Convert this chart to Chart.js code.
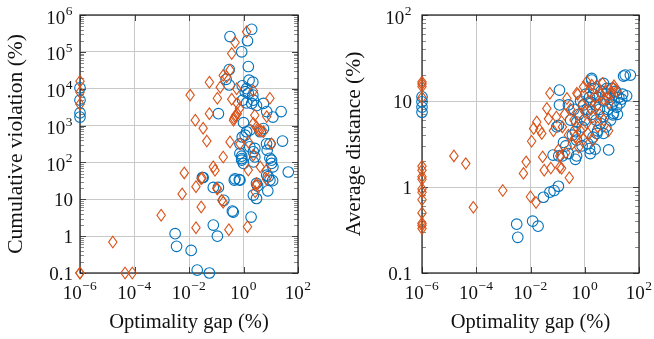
<!DOCTYPE html>
<html>
<head>
<meta charset="utf-8">
<script src="https://cdn.jsdelivr.net/npm/chart.js@4.4.1/dist/chart.umd.min.js"></script>
<style>
html, body { margin: 0; padding: 0; background: #fff; }
#wrap { position: relative; width: 654px; height: 339px; }
canvas { position: absolute; top: 0; }
</style>
</head>
<body>
<div id="wrap">
  <canvas id="violChart" width="327" height="339" style="left:0px"></canvas>
  <canvas id="distChart" width="327" height="339" style="left:327px"></canvas>
</div>
<script>
// optimality gap (%) vs cumulative violation (%)
var violCircles = [
  [1e-6,1.05e4],[1e-6,4.9e3],[1e-6,2.2e3],[1e-6,1.7e3],
  [0.32,2.6e5],[2.0,4.1e5],[1.4,2e5],[0.86,1e5],[1.5,4e4],[0.3,3.3e4],[0.23,1.8e4],[0.3,1.26e4],
  [1.6,1.7e4],[2.2,1.5e4],[0.9,1.2e4],[1.3,1e4],[1.15,8.3e3],[1.5,7.5e3],[2.2,6.7e3],[2.3,4.9e3],
  [2.0,4e3],[0.93,4.9e3],[1.3,4.1e3],[3.0,3.5e3],[5.4,4e3],[7.1,2.4e3],[24,2.4e3],[12,1.7e3],[0.12,2.1e3],
  [1.0,1.2e3],[1.7,750],[1.3,680],[5.4,830],[0.9,490],[1.15,550],[4.1,680],[0.74,320],[7,320],[9.3,320],
  [27,380],[1.7,265],[2.6,240],[2.3,195],[7.4,215],[0.74,175],[0.86,148],[2.6,141],[9.3,130],[0.86,127],
  [0.86,115],[10.7,115],[10.7,94],[1,94],[2.3,103],[12,76],
  [0.49,36],[0.74,33],[7.1,45],[9.3,33],[3.0,27],[0.12,21],[0.033,39],
  [3.1e-3,1.17],[3.5e-3,0.53],[0.012,0.41],[0.02,0.12],[0.056,0.1],[0.078,2.0],[0.11,1.0],
  [0.031,39],[0.078,21],[0.19,9.4],[0.39,4.8],[0.42,4.5],[0.46,33],[0.7,34],[1.9,3.3],[2.3,13],
  [3.0,10.5],[3.3,23],[7.8,17],[8.1,41],[11.7,32],[44,55]
];
var violDiamonds = [
  [1e-6,1.6e4],[1e-6,8e3],[1e-6,3.8e3],[1e-6,0.1],[1e-6,0.1],
  [1.6e-5,0.69],[4.5e-5,0.1],[8.3e-5,0.1],[9.5e-4,3.7],[5.6e-3,14],[6.7e-3,52],[0.018,22],[0.018,1.7],
  [0.028,6.2],[0.028,36],[0.03,38],[0.09,61],[0.105,20],[0.11,19],[0.16,9.4],[0.18,8.3],[0.29,1.5],
  [1.4,1.8],[2.9,24],[3.0,27],[2.7,16],[7,35],
  [1.3,3.5e5],[0.49,1.8e5],[0.37,9e4],[0.32,3.2e4],[0.18,2.3e4],[0.24,2.1e4],[0.056,1.5e4],[0.14,1.1e4],
  [0.56,1e4],[2.3,8.8e3],[0.011,6.7e3],[0.11,5.5e3],[0.37,5.2e3],[9.3,5.5e3],[0.59,4e3],[0.71,2.9e3],
  [0.056,2.1e3],[0.59,2.1e3],[0.49,1.75e3],[0.43,1.4e3],[0.45,1.55e3],[0.52,1.9e3],[0.017,1.4e3],
  [2.6,1.9e3],[7.1,1.75e3],[0.033,850],[2.3,1.15e3],[3,920],[3.5,750],[4.1,750],[5.4,680],[0.045,380],
  [0.32,360],[0.74,320],[10.7,320],[1.5,360],[0.18,140],[2.3,160],[0.078,76],[1.5,62],[4.1,76],[7.0,62]
];

// optimality gap (%) vs average distance (%)
var distCircles = [
  [1e-6,11.2],[1e-6,9.8],[1e-6,8.5],[1e-6,7.4],
  [3.1e-3,0.37],[3.4e-3,0.26],[0.012,0.4],[0.019,0.35],[0.030,0.76],[0.052,0.87],[0.074,0.91],[0.107,1.02],
  [0.068,2.35],[0.11,2.3],[0.15,2.3],[0.25,2.45],[0.45,2.1],[0.5,2.3],[1.6,2.45],[2.4,2.75],[7.6,2.7],
  [0.165,3.3],[4.9,4.2],[2.8,4.2],[0.45,4.4],[0.093,5],
  [31,20],[48,20],[27,19.5],[0.117,13.4],[0.117,9],[1.8,17.5],[1.8,18.3],[4.9,16],[6.5,14],[13,12.8],
  [23,10.5],[11,6.9],[11.5,7.2],[4.9,6.6],[1.6,9.8],[0.25,9],[0.107,5.2],[0.51,5.7],
  [0.6,7],[0.8,5],[1,6],[1.2,8],[1.5,11],[2,12],[2.5,9],[3,11],[3.5,8],[4,13],[5,10],[6,12],[8,11],
  [10,9],[12,10],[15,8.5],[18,11],[20,9.5],[9,6],[6,5],[3,4.5],[2,3.8],[1.3,3.2],[0.8,3],[0.5,3.5],
  [0.35,4],[0.3,6],[0.9,9],[1.8,7],[2.6,6],[3.8,5.5],[7,8],[14,13],[10,14],[2.2,14],[1.1,12],[0.7,10],
  [0.4,8],[25,12],[35,11.5],[16,7],[1.5,2.8],[0.2,3]
];
var distDiamonds = [
  [1e-6,16.6],[1e-6,15.8],[1e-6,14.7],[1e-6,11],[1e-6,1.74],[1e-6,1.57],[1e-6,1.32],[1e-6,1.23],
  [1e-6,0.95],[1e-6,0.87],[1e-6,0.71],[1e-6,0.5],[1e-6,0.38],[1e-6,0.36],[1e-6,0.33],
  [1.5e-5,2.3],[4.1e-5,1.87],[7.8e-5,0.58],[9.5e-4,0.91],[5.5e-3,1.44],[6.9e-3,1.96],[0.010,0.77],
  [0.016,0.66],[0.011,3.4],[0.013,4.8],[0.026,4.2],[0.028,2.24],[0.032,1.57],[0.056,1.66],[0.12,1.7],
  [0.14,1.65],[0.27,1.28],[0.107,2.7],[0.12,2.3],[7.6,4.5],
  [0.052,12.3],[0.04,8.2],[0.017,5.7],[0.046,6.2],[0.022,4.6],[0.22,10.7],[0.51,12.3],[0.9,14.6],
  [1.2,16.7],[1.8,15.3],[11.5,14],
  [0.3,8],[0.4,6],[0.5,5],[0.6,7],[0.7,4.5],[0.8,9],[1,7.5],[1.2,5.5],[1.4,10],[1.7,8],[2,6.5],
  [2.5,11],[3,9],[3.5,7],[4,12],[5,10.5],[6,13],[7,11],[8,9.5],[10,12.5],[12,15],[15,13],[0.25,4],
  [0.35,3.2],[0.45,3.8],[0.6,2.9],[0.9,3.6],[1.3,4.2],[2,3.5],[0.15,5],[0.18,7],[0.09,6.5],[0.07,4.5],
  [3,5],[5,6],[0.2,2.5],[0.55,12],[1.5,13],[2.8,15],[4.5,16]
];

var gapTicks = [1e-6, 1e-4, 1e-2, 1, 100];
var violTicks = [0.1, 1, 10, 1e2, 1e3, 1e4, 1e5, 1e6];
var distTicks = [0.1, 1, 10, 100];

var BLUE = '#0072BD';
var ORANGE = '#D95319';
var FONT = '"Liberation Serif", "Times New Roman", serif';

function toXY(arr) {
  return arr.map(function (p) { return { x: p[0], y: p[1] }; });
}

// draws "10^e" or a plain number at a tick
function drawTickText(ctx, v, x, y, align, plainSmall) {
  var e = Math.round(Math.log10(v));
  var main, sup = null;
  if (plainSmall && e <= 1) {
    main = (v === 0.1) ? '0.1' : String(v);
  } else {
    main = '10';
    sup = (e < 0 ? '\u2212' : '') + Math.abs(e);
  }
  ctx.font = '19px ' + FONT;
  var w1 = ctx.measureText(main).width;
  var w2 = 0;
  if (sup) { ctx.font = '13.5px ' + FONT; w2 = ctx.measureText(sup).width + 1; }
  var total = w1 + w2;
  var x0 = align === 'right' ? x - total : x - total / 2;
  var base = sup ? y + 8.5 : y + 6.5;
  ctx.textAlign = 'left';
  ctx.textBaseline = 'alphabetic';
  ctx.fillStyle = '#111';
  ctx.font = '19px ' + FONT;
  ctx.fillText(main, x0, base);
  if (sup) {
    ctx.font = '13.5px ' + FONT;
    ctx.fillText(sup, x0 + w1 + 0.5, base - 8.5);
  }
}

var framePlugin = {
  id: 'frame',
  beforeDatasetsDraw: function (chart) {
    var ctx = chart.ctx, a = chart.chartArea;
    var xs = chart.scales.x, ys = chart.scales.y;
    ctx.save();
    // minor ticks on y
    ctx.strokeStyle = '#8a8a8a';
    ctx.lineWidth = 1;
    var lo = Math.round(Math.log10(ys.min)), hi = Math.round(Math.log10(ys.max));
    ctx.beginPath();
    for (var d = lo; d < hi; d++) {
      for (var k = 2; k <= 9; k++) {
        var py = Math.round(ys.getPixelForValue(k * Math.pow(10, d))) + 0.5;
        ctx.moveTo(a.left, py); ctx.lineTo(a.left + 4, py);
        ctx.moveTo(a.right, py); ctx.lineTo(a.right - 4, py);
      }
    }
    ctx.stroke();
    // major ticks
    ctx.strokeStyle = '#444';
    ctx.beginPath();
    ys.ticks.forEach(function (t) {
      var py = Math.round(ys.getPixelForValue(t.value)) + 0.5;
      ctx.moveTo(a.left, py); ctx.lineTo(a.left + 6, py);
      ctx.moveTo(a.right, py); ctx.lineTo(a.right - 6, py);
    });
    xs.ticks.forEach(function (t) {
      var px = Math.round(xs.getPixelForValue(t.value)) + 0.5;
      ctx.moveTo(px, a.bottom); ctx.lineTo(px, a.bottom - 6);
      ctx.moveTo(px, a.top); ctx.lineTo(px, a.top + 6);
    });
    ctx.stroke();
    // frame
    ctx.strokeStyle = '#1a1a1a';
    ctx.lineWidth = 1.2;
    ctx.strokeRect(a.left, a.top, a.right - a.left, a.bottom - a.top);
    ctx.restore();
  },
  afterDatasetsDraw: function (chart) {
    // diamond marks at the positions the library computed for the second dataset
    var ctx = chart.ctx;
    var meta = chart.getDatasetMeta(1);
    ctx.save();
    ctx.strokeStyle = ORANGE;
    ctx.lineWidth = 1.1;
    meta.data.forEach(function (el) {
      var x = el.x, y = el.y;
      ctx.beginPath();
      ctx.moveTo(x, y - 5.8); ctx.lineTo(x + 4.2, y); ctx.lineTo(x, y + 5.8); ctx.lineTo(x - 4.2, y);
      ctx.closePath();
      ctx.stroke();
    });
    ctx.restore();
  },
  afterDraw: function (chart, args, opts) {
    var ctx = chart.ctx, a = chart.chartArea;
    var xs = chart.scales.x, ys = chart.scales.y;
    ctx.save();
    xs.ticks.forEach(function (t) {
      drawTickText(ctx, t.value, xs.getPixelForValue(t.value), a.bottom + 17, 'center', false);
    });
    ys.ticks.forEach(function (t) {
      drawTickText(ctx, t.value, opts.labelRight, ys.getPixelForValue(t.value), 'right', true);
    });
    ctx.fillStyle = '#111';
    ctx.font = '20.5px ' + FONT;
    ctx.textAlign = 'center';
    ctx.textBaseline = 'alphabetic';
    ctx.fillText('Optimality gap (%)', (a.left + a.right) / 2, 328);
    ctx.font = '21.5px ' + FONT;
    ctx.translate(opts.titleX, (a.top + a.bottom) / 2);
    ctx.rotate(-Math.PI / 2);
    ctx.textBaseline = 'middle';
    ctx.fillText(opts.yTitle, 0, 0);
    ctx.restore();
  }
};

function makeChart(id, circles, diamonds, yTicks, yMax, pad, labelRight, titleX, yTitle) {
  return new Chart(document.getElementById(id), {
    type: 'scatter',
    data: {
      datasets: [
        {
          data: toXY(circles),
          pointStyle: 'circle',
          pointRadius: 5.3,
          pointBorderWidth: 1.1,
          borderColor: BLUE,
          backgroundColor: 'rgba(0,0,0,0)',
          clip: false
        },
        {
          data: toXY(diamonds),
          pointRadius: 0,
          borderColor: ORANGE,
          backgroundColor: 'rgba(0,0,0,0)',
          clip: false
        }
      ]
    },
    options: {
      responsive: false,
      animation: false,
      devicePixelRatio: 1,
      layout: { padding: pad },
      plugins: {
        legend: { display: false },
        tooltip: { enabled: false },
        frame: { labelRight: labelRight, titleX: titleX, yTitle: yTitle }
      },
      scales: {
        x: {
          type: 'logarithmic', min: 1e-6, max: 100,
          afterBuildTicks: function (s) { s.ticks = gapTicks.map(function (v) { return { value: v }; }); },
          ticks: { display: false },
          grid: { color: '#c8c8c8', lineWidth: 1, drawTicks: false },
          border: { display: false }
        },
        y: {
          type: 'logarithmic', min: 0.1, max: yMax,
          afterBuildTicks: function (s) { s.ticks = yTicks.map(function (v) { return { value: v }; }); },
          ticks: { display: false },
          grid: { color: '#c8c8c8', lineWidth: 1, drawTicks: false },
          border: { display: false }
        }
      }
    },
    plugins: [framePlugin]
  });
}

makeChart('violChart', violCircles, violDiamonds, violTicks, 1e6,
  { left: 80, right: 29, top: 15, bottom: 66 }, 73, 16, 'Cumulative violation (%)');
makeChart('distChart', distCircles, distDiamonds, distTicks, 100,
  { left: 95, right: 15, top: 15, bottom: 66 }, 85, 27, 'Average distance (%)');
</script>
</body>
</html>
